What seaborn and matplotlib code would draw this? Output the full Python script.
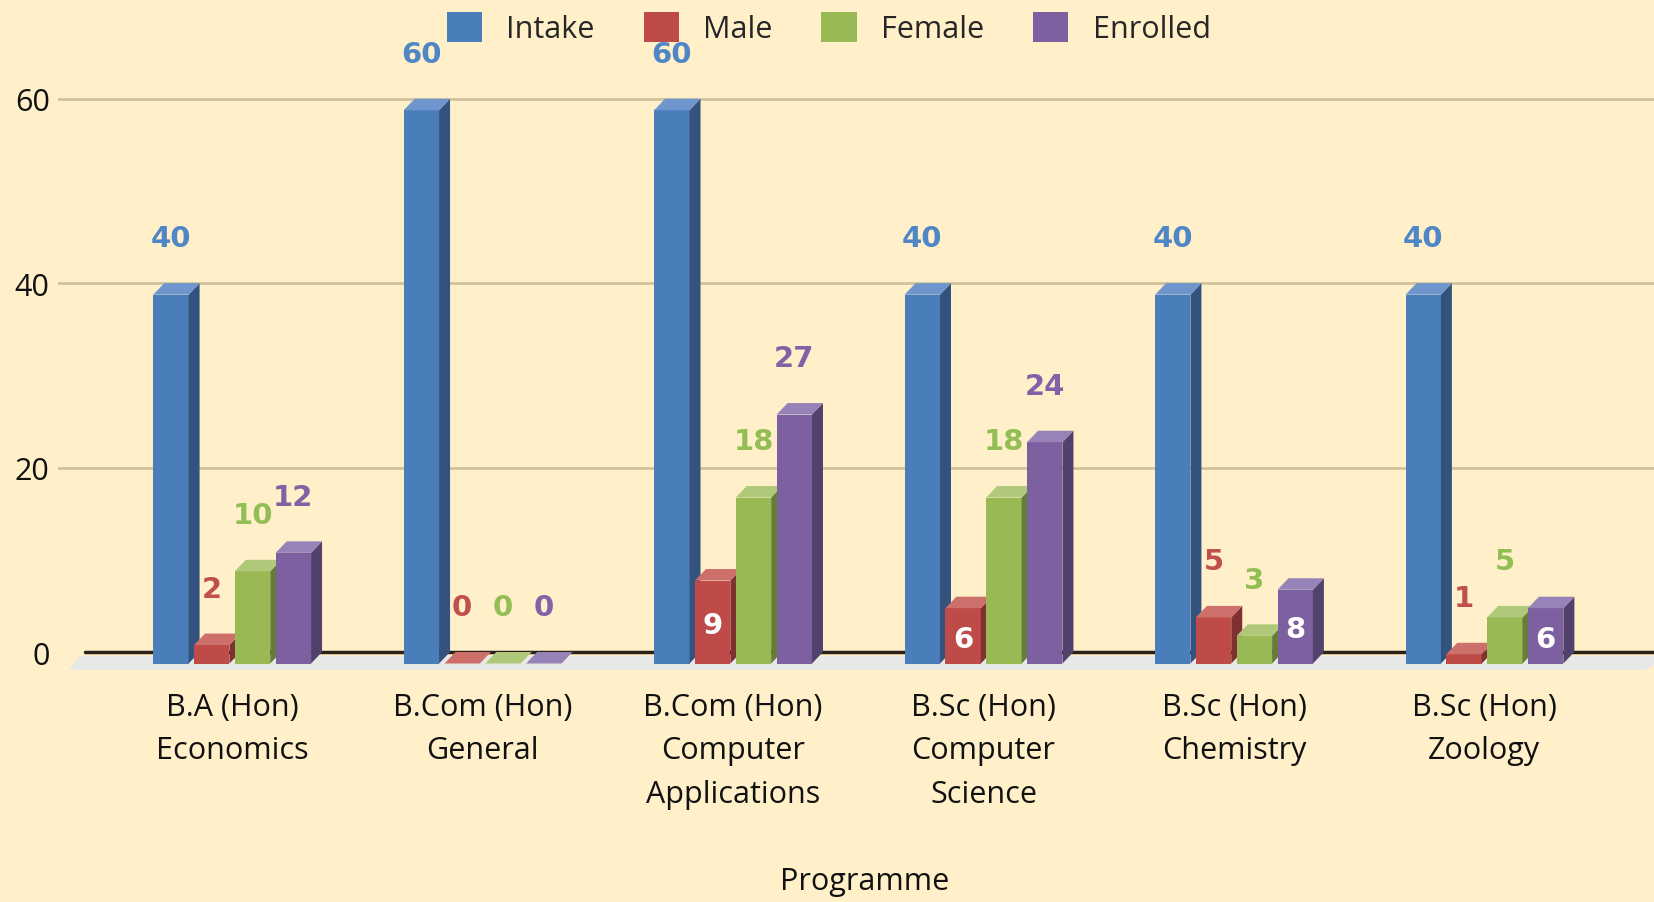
import numpy as np
import pandas as pd
import matplotlib
matplotlib.use("Agg")
import matplotlib.pyplot as plt
import seaborn as sns
from matplotlib.patches import Polygon, Patch

# ---------------------------------------------------------------
# data
# ---------------------------------------------------------------
programmes = [
    "B.A (Hon)\nEconomics",
    "B.Com (Hon)\nGeneral",
    "B.Com (Hon)\nComputer\nApplications",
    "B.Sc (Hon)\nComputer\nScience",
    "B.Sc (Hon)\nChemistry",
    "B.Sc (Hon)\nZoology",
]
series = ["Intake", "Male", "Female", "Enrolled"]
intake = [40, 60, 60, 40, 40, 40]
male = [2, 0, 9, 6, 5, 1]
female = [10, 0, 18, 18, 3, 5]
enrolled = [12, 0, 27, 24, 8, 6]
y_ticks = [0, 20, 40, 60]

# labels drawn in white inside the bar (series, programme index)
inside_labels = {("Male", 2), ("Male", 3), ("Enrolled", 4), ("Enrolled", 5)}

BG = "#FFF0C9"
TXT = "#111111"
front_cols = ["#4A7EBB", "#BE4B48", "#98B954", "#7D60A0"]
side_cols = ["#34527E", "#7E3130", "#667C38", "#52416C"]
top_cols = ["#6F96CC", "#CD706B", "#AFC87A", "#9883B8"]
label_cols = ["#4F86C6", "#C0504D", "#93BE55", "#7F63A6"]

df = pd.DataFrame({
    "Programme": programmes * 4,
    "Series": np.repeat(series, len(programmes)),
    "Count": intake + male + female + enrolled,
})

sns.set_style("white")
plt.rcParams["font.family"] = ["Open Sans", "DejaVu Sans"]
FS = 22
LFS = 21

fig = plt.figure(figsize=(16.54, 9.03), dpi=100, facecolor=BG)
ax = fig.add_axes([0.0351, 0.2554, 0.9649, 0.6954])
ax.set_facecolor(BG)

sns.barplot(data=df, x="Programme", y="Count", hue="Series", order=programmes,
            hue_order=series, palette=front_cols, width=0.652, gap=0.133,
            saturation=1, legend=False, ax=ax)

ax.set_xlim(-0.695, 5.677)
ax.set_ylim(-2.1, 66)

# 3D depth offsets (data units)
DX = 11 / 250.5
DY = 11.5 / 9.22

# floor and back lines
ax.add_patch(Polygon([(-0.607, -0.43), (5.72, -0.43), (5.649, -1.95), (-0.651, -1.95)],
                     closed=True, facecolor="#E8E8E8", edgecolor="none", zorder=1))
for y in y_ticks[1:]:
    ax.axhline(y, color="#D2C39C", lw=2, zorder=0.5)
ax.axhline(0, xmin=(85 - 58) / (1654 - 58), xmax=1, color="#2A2218", lw=2.5, zorder=1.5)

all_bars = []
for s_i, cont in enumerate(ax.containers):
    for c_i, bar in enumerate(cont.patches):
        all_bars.append((bar.get_x(), s_i, c_i, bar))
all_bars.sort(key=lambda t: t[0])

for rank, (x0, s_i, c_i, bar) in enumerate(all_bars):
    w = bar.get_width()
    v = bar.get_height()
    z = 3 + rank * 0.01
    bar.set_y(-DY)
    bar.set_edgecolor("none")
    bar.set_zorder(z)
    side = Polygon([(x0 + w, -DY), (x0 + w + DX, 0), (x0 + w + DX, v), (x0 + w, v - DY)],
                   closed=True, facecolor=side_cols[s_i], edgecolor="none", zorder=z)
    top = Polygon([(x0, v - DY), (x0 + w, v - DY), (x0 + w + DX, v), (x0 + DX, v)],
                  closed=True, facecolor=top_cols[s_i], edgecolor="none", zorder=z)
    ax.add_patch(side)
    ax.add_patch(top)

    xc = x0 + w / 2
    if (series[s_i], c_i) in inside_labels:
        ax.text(xc, (v - 2 * DY) / 2 - 0.3, f"{v:.0f}", ha="center", va="center",
                color="white", fontsize=LFS, fontweight="bold", family="DejaVu Sans", zorder=10)
    else:
        ax.text(xc, v + 4.85, f"{v:.0f}", ha="center", va="center",
                color=label_cols[s_i], fontsize=LFS, fontweight="bold", family="DejaVu Sans",
                zorder=10, clip_on=False)

ax.set_yticks(y_ticks)
ax.set_yticklabels([str(t) for t in y_ticks], fontsize=FS, color=TXT)
ax.set_xticks(range(len(programmes)))
ax.set_xticklabels(programmes, fontsize=FS, color=TXT, linespacing=1.6)
ax.tick_params(axis="y", length=0, pad=6)
ax.tick_params(axis="x", length=0, pad=14.5)
ax.set_xlabel("")
ax.set_ylabel("")
for sp in ax.spines.values():
    sp.set_visible(False)

fig.text(865 / 1654, 1 - 882 / 903, "Programme", ha="center", va="center",
         fontsize=FS, color=TXT)

handles = [Patch(facecolor=c, edgecolor="none") for c in front_cols]
fig.legend(handles, series, loc="center", bbox_to_anchor=(0.501, 0.968), ncol=4,
           frameon=False, fontsize=FS, handlelength=1.15, handleheight=1.15,
           handletextpad=0.8, columnspacing=1.6)

fig.savefig("out.png", dpi=100, facecolor=BG)
